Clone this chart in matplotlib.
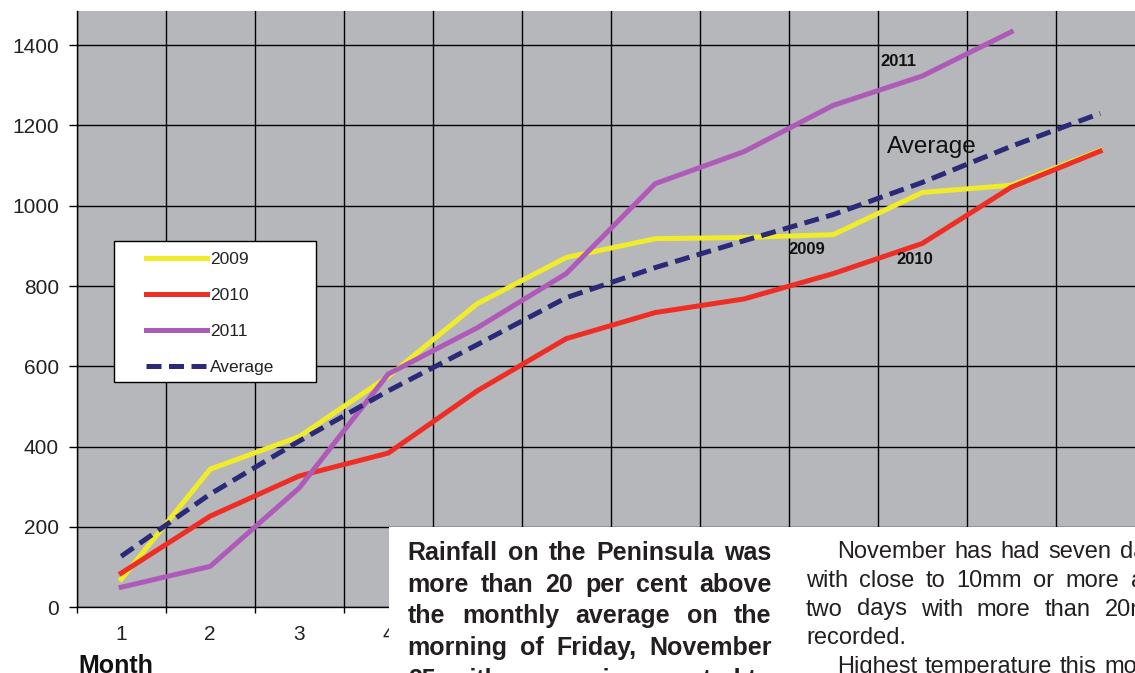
import matplotlib
matplotlib.use("Agg")
import matplotlib.pyplot as plt
from matplotlib.patches import Rectangle
from matplotlib.lines import Line2D

plt.rcParams["font.family"] = ["Liberation Sans", "DejaVu Sans"]

W, H = 1135, 673

# -- data (cumulative rainfall, mm) --
months = [1, 2, 3, 4, 5, 6, 7, 8, 9, 10, 11, 12]
rain_2009 = [70, 344, 425, 575, 756, 871, 918, 921, 928, 1033, 1051, 1138]
rain_2010 = [85, 227, 327, 384, 539, 669, 734, 768, 831, 906, 1046, 1136]
rain_2011 = [50, 102, 297, 581, 696, 831, 1055, 1135, 1250, 1323, 1433]
average = [127, 282, 414, 539, 654, 771, 846, 913, 978, 1058, 1148, 1230]
y_ticks = [0, 200, 400, 600, 800, 1000, 1200, 1400]

col_bold = [
    ("Rainfall on the Peninsula was", True),
    ("more than 20 per cent above", True),
    ("the monthly average on the", True),
    ("morning of Friday, November", True),
    ("25, with some rain expected to", True),
]
col_plain = [
    ("November has had seven days", True, True),
    ("with close to 10mm or more and", False, True),
    ("two days with more than 20mm", False, True),
    ("recorded.", False, False),
    ("Highest temperature this month", True, True),
]

YELLOW = "#f0ec2a"
RED = "#ee2d24"
PURPLE = "#ae5ab8"
NAVY = "#2a2a78"
BG = "#b6b7bb"
INK = "#231f20"
DASH = (0, (3, 1.5))


def fx(px):
    return px / W


def fy(py):
    return 1 - py / H


def put_line(fig, renderer, text, x0, x1, base, justify, **kw):
    """Place one line of column text, spreading words to fill x0..x1."""
    words = text.split()
    arts = [fig.text(0, fy(base), w, ha="left", va="baseline", **kw)
            for w in words]
    widths = [a.get_window_extent(renderer).width for a in arts]
    space = 0.28 * kw.get("fontsize", 17) * 100 / 72
    gap = space
    if justify and len(words) > 1:
        gap = max(space, (x1 - x0 - sum(widths)) / (len(words) - 1))
    x = x0
    for a, w in zip(arts, widths):
        a.set_x(fx(x))
        x += w + gap


fig = plt.figure(figsize=(W / 100, H / 100), dpi=100)
ax = fig.add_axes([fx(76.7), fy(607.3), 1068 / W, (607.3 - 11) / H])
ax.set_facecolor(BG)

ax.plot(months, rain_2009, color=YELLOW, lw=3.6, zorder=3)
ax.plot(months, rain_2010, color=RED, lw=3.6, zorder=3)
ax.plot(months[:len(rain_2011)], rain_2011, color=PURPLE, lw=3.6, zorder=3)
ax.plot(months, average, color=NAVY, lw=3.6, ls=DASH, zorder=4)

ax.set_xlim(0.5, 12.5)
ax.set_ylim(0, 1485)

# category boundaries carry the grid, labels sit at the centres
ax.set_xticks([m - 0.5 for m in months] + [12.5])
ax.set_xticklabels([])
ax.set_xticks(months, minor=True)
ax.set_xticklabels([str(m) for m in months], minor=True)
ax.set_yticks(y_ticks)
ax.set_yticklabels([str(v) for v in y_ticks])

ax.tick_params(axis="x", which="major", length=4.5, width=1, direction="out")
ax.tick_params(axis="x", which="minor", length=0, pad=12.7,
               labelsize=15, labelcolor="#222222")
ax.tick_params(axis="y", length=6, width=1, direction="out", pad=6.7,
               labelsize=15, labelcolor="#222222")
ax.grid(True, which="major", color="black", lw=1.0)
ax.set_axisbelow(True)
for side in ("top", "right"):
    ax.spines[side].set_visible(False)
for side in ("left", "bottom"):
    ax.spines[side].set_color("black")
    ax.spines[side].set_linewidth(1.0)

ax.text(9.73, 1360, "2011", fontsize=12, fontweight="bold", color="#111111",
        ha="center", va="center")
ax.text(10.11, 1146, "Average", fontsize=17.5, color="#111111",
        ha="center", va="center")
ax.text(8.70, 892, "2009", fontsize=12, fontweight="bold", color="#111111",
        ha="center", va="center")
ax.text(9.92, 865, "2010", fontsize=12, fontweight="bold", color="#111111",
        ha="center", va="center")

# legend box drawn by hand so the padding matches
fig.add_artist(Rectangle((fx(114), fy(382)), 202 / W, 141 / H,
                         transform=fig.transFigure, facecolor="white",
                         edgecolor="black", lw=1.0, zorder=4))
handles = [
    Line2D([], [], color=YELLOW, lw=3.6),
    Line2D([], [], color=RED, lw=3.6),
    Line2D([], [], color=PURPLE, lw=3.6),
    Line2D([], [], color=NAVY, lw=3.6, ls=DASH),
]
leg = fig.legend(handles, ["2009", "2010", "2011", "Average"],
                 loc="upper left", bbox_to_anchor=(fx(146), fy(252)),
                 frameon=False, fontsize=12.5, handlelength=3.5,
                 handletextpad=0.18, labelspacing=1.2, borderpad=0,
                 borderaxespad=0)
leg.set_zorder(5)
for t in leg.get_texts():
    t.set_color("#222222")

fig.text(fx(78), fy(654), "Month", fontsize=18, fontweight="bold",
         color="#111111", ha="left", va="top")

# newspaper column pasted over the lower right of the chart
fig.add_artist(Rectangle((fx(389), 0), 1 - fx(389), (673 - 527) / H,
                         transform=fig.transFigure, facecolor="white",
                         edgecolor="none", zorder=6))

renderer = fig.canvas.get_renderer()
for i, (line, just) in enumerate(col_bold):
    put_line(fig, renderer, line, 407.7, 771.7, 560 + i * 31.7, just,
             fontsize=18, fontweight="bold", color=INK, zorder=7)
for i, (line, indent, just) in enumerate(col_plain):
    x0 = 836.7 if indent else 806
    put_line(fig, renderer, line, x0, 1170, 558.3 + i * 28.6, just,
             fontsize=17, color=INK, zorder=7)

fig.savefig("out.png", dpi=100)
